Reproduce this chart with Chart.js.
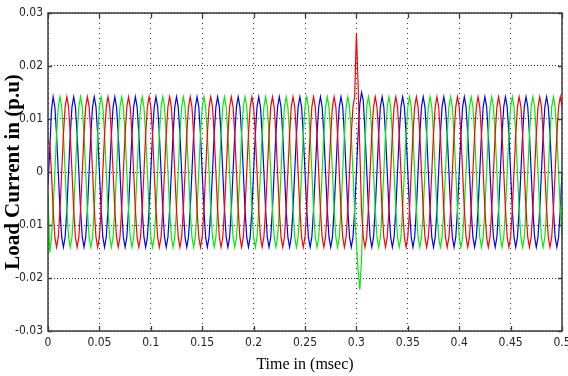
<!DOCTYPE html>
<html>
<head>
<meta charset="utf-8">
<script src="https://cdn.jsdelivr.net/npm/chart.js@4.4.1/dist/chart.umd.min.js"></script>
<style>
  html, body { margin: 0; padding: 0; background: #ffffff; }
  #wrap { width: 568px; height: 376px; }
</style>
</head>
<body>
<div id="wrap"><canvas id="c" width="568" height="376"></canvas></div>
<script>
// Sample times (s), one row per 0.02 s cycle
const timeSec = [
  0,0.00167,0.00333,0.005,0.00667,0.00833,0.01,0.01167,0.01333,0.015,0.01667,0.01833,
  0.02,0.02167,0.02333,0.025,0.02667,0.02833,0.03,0.03167,0.03333,0.035,0.03667,0.03833,
  0.04,0.04167,0.04333,0.045,0.04667,0.04833,0.05,0.05167,0.05333,0.055,0.05667,0.05833,
  0.06,0.06167,0.06333,0.065,0.06667,0.06833,0.07,0.07167,0.07333,0.075,0.07667,0.07833,
  0.08,0.08167,0.08333,0.085,0.08667,0.08833,0.09,0.09167,0.09333,0.095,0.09667,0.09833,
  0.1,0.10167,0.10333,0.105,0.10667,0.10833,0.11,0.11167,0.11333,0.115,0.11667,0.11833,
  0.12,0.12167,0.12333,0.125,0.12667,0.12833,0.13,0.13167,0.13333,0.135,0.13667,0.13833,
  0.14,0.14167,0.14333,0.145,0.14667,0.14833,0.15,0.15167,0.15333,0.155,0.15667,0.15833,
  0.16,0.16167,0.16333,0.165,0.16667,0.16833,0.17,0.17167,0.17333,0.175,0.17667,0.17833,
  0.18,0.18167,0.18333,0.185,0.18667,0.18833,0.19,0.19167,0.19333,0.195,0.19667,0.19833,
  0.2,0.20167,0.20333,0.205,0.20667,0.20833,0.21,0.21167,0.21333,0.215,0.21667,0.21833,
  0.22,0.22167,0.22333,0.225,0.22667,0.22833,0.23,0.23167,0.23333,0.235,0.23667,0.23833,
  0.24,0.24167,0.24333,0.245,0.24667,0.24833,0.25,0.25167,0.25333,0.255,0.25667,0.25833,
  0.26,0.26167,0.26333,0.265,0.26667,0.26833,0.27,0.27167,0.27333,0.275,0.27667,0.27833,
  0.28,0.28167,0.28333,0.285,0.28667,0.28833,0.29,0.29167,0.29333,0.295,0.29667,0.29833,
  0.3,0.30167,0.30333,0.305,0.30667,0.30833,0.31,0.31167,0.31333,0.315,0.31667,0.31833,
  0.32,0.32167,0.32333,0.325,0.32667,0.32833,0.33,0.33167,0.33333,0.335,0.33667,0.33833,
  0.34,0.34167,0.34333,0.345,0.34667,0.34833,0.35,0.35167,0.35333,0.355,0.35667,0.35833,
  0.36,0.36167,0.36333,0.365,0.36667,0.36833,0.37,0.37167,0.37333,0.375,0.37667,0.37833,
  0.38,0.38167,0.38333,0.385,0.38667,0.38833,0.39,0.39167,0.39333,0.395,0.39667,0.39833,
  0.4,0.40167,0.40333,0.405,0.40667,0.40833,0.41,0.41167,0.41333,0.415,0.41667,0.41833,
  0.42,0.42167,0.42333,0.425,0.42667,0.42833,0.43,0.43167,0.43333,0.435,0.43667,0.43833,
  0.44,0.44167,0.44333,0.445,0.44667,0.44833,0.45,0.45167,0.45333,0.455,0.45667,0.45833,
  0.46,0.46167,0.46333,0.465,0.46667,0.46833,0.47,0.47167,0.47333,0.475,0.47667,0.47833,
  0.48,0.48167,0.48333,0.485,0.48667,0.48833,0.49,0.49167,0.49333,0.495,0.49667,0.49833,
  0.5
];

// Phase A (red) load current, p.u.
const phaseRed = [
  0.006,0.0055,0,-0.0071,-0.0123,-0.0142,-0.0123,-0.0071,0,0.0071,0.0123,0.0142,
  0.0123,0.0071,0,-0.0071,-0.0123,-0.0142,-0.0123,-0.0071,0,0.0071,0.0123,0.0142,
  0.0123,0.0071,0,-0.0071,-0.0123,-0.0142,-0.0123,-0.0071,0,0.0071,0.0123,0.0142,
  0.0123,0.0071,0,-0.0071,-0.0123,-0.0142,-0.0123,-0.0071,0,0.0071,0.0123,0.0142,
  0.0123,0.0071,0,-0.0071,-0.0123,-0.0142,-0.0123,-0.0071,0,0.0071,0.0123,0.0142,
  0.0123,0.0071,0,-0.0071,-0.0123,-0.0142,-0.0123,-0.0071,0,0.0071,0.0123,0.0142,
  0.0123,0.0071,0,-0.0071,-0.0123,-0.0142,-0.0123,-0.0071,0,0.0071,0.0123,0.0142,
  0.0123,0.0071,0,-0.0071,-0.0123,-0.0142,-0.0123,-0.0071,0,0.0071,0.0123,0.0142,
  0.0123,0.0071,0,-0.0071,-0.0123,-0.0142,-0.0123,-0.0071,0,0.0071,0.0123,0.0142,
  0.0123,0.0071,0,-0.0071,-0.0123,-0.0142,-0.0123,-0.0071,0,0.0071,0.0123,0.0142,
  0.0123,0.0071,0,-0.0071,-0.0123,-0.0142,-0.0123,-0.0071,0,0.0071,0.0123,0.0142,
  0.0123,0.0071,0,-0.0071,-0.0123,-0.0142,-0.0123,-0.0071,0,0.0071,0.0123,0.0142,
  0.0123,0.0071,0,-0.0071,-0.0123,-0.0142,-0.0123,-0.0071,0,0.0071,0.0123,0.0142,
  0.0123,0.0071,0,-0.0071,-0.0123,-0.0142,-0.0123,-0.0071,0,0.0071,0.0123,0.0142,
  0.0123,0.0071,0,-0.0071,-0.0123,-0.0142,-0.0123,-0.0071,0,0.0071,0.0123,0.0142,
  0.0262,0.0165,0.004,-0.0071,-0.0123,-0.0142,-0.0123,-0.0071,0,0.0071,0.0123,0.0142,
  0.0123,0.0071,0,-0.0071,-0.0123,-0.0142,-0.0123,-0.0071,0,0.0071,0.0123,0.0142,
  0.0123,0.0071,0,-0.0071,-0.0123,-0.0142,-0.0123,-0.0071,0,0.0071,0.0123,0.0142,
  0.0123,0.0071,0,-0.0071,-0.0123,-0.0142,-0.0123,-0.0071,0,0.0071,0.0123,0.0142,
  0.0123,0.0071,0,-0.0071,-0.0123,-0.0142,-0.0123,-0.0071,0,0.0071,0.0123,0.0142,
  0.0123,0.0071,0,-0.0071,-0.0123,-0.0142,-0.0123,-0.0071,0,0.0071,0.0123,0.0142,
  0.0123,0.0071,0,-0.0071,-0.0123,-0.0142,-0.0123,-0.0071,0,0.0071,0.0123,0.0142,
  0.0123,0.0071,0,-0.0071,-0.0123,-0.0142,-0.0123,-0.0071,0,0.0071,0.0123,0.0142,
  0.0123,0.0071,0,-0.0071,-0.0123,-0.0142,-0.0123,-0.0071,0,0.0071,0.0123,0.0142,
  0.0123,0.0071,0,-0.0071,-0.0123,-0.0142,-0.0123,-0.0071,0,0.0071,0.0123,0.0142,
  0.0123
];

// Phase B (green) load current, p.u.
const phaseGreen = [
  -0.004,-0.0152,-0.0125,-0.0071,0,0.0071,0.0123,0.0142,0.0123,0.0071,0,-0.0071,
  -0.0123,-0.0142,-0.0123,-0.0071,0,0.0071,0.0123,0.0142,0.0123,0.0071,0,-0.0071,
  -0.0123,-0.0142,-0.0123,-0.0071,0,0.0071,0.0123,0.0142,0.0123,0.0071,0,-0.0071,
  -0.0123,-0.0142,-0.0123,-0.0071,0,0.0071,0.0123,0.0142,0.0123,0.0071,0,-0.0071,
  -0.0123,-0.0142,-0.0123,-0.0071,0,0.0071,0.0123,0.0142,0.0123,0.0071,0,-0.0071,
  -0.0123,-0.0142,-0.0123,-0.0071,0,0.0071,0.0123,0.0142,0.0123,0.0071,0,-0.0071,
  -0.0123,-0.0142,-0.0123,-0.0071,0,0.0071,0.0123,0.0142,0.0123,0.0071,0,-0.0071,
  -0.0123,-0.0142,-0.0123,-0.0071,0,0.0071,0.0123,0.0142,0.0123,0.0071,0,-0.0071,
  -0.0123,-0.0142,-0.0123,-0.0071,0,0.0071,0.0123,0.0142,0.0123,0.0071,0,-0.0071,
  -0.0123,-0.0142,-0.0123,-0.0071,0,0.0071,0.0123,0.0142,0.0123,0.0071,0,-0.0071,
  -0.0123,-0.0142,-0.0123,-0.0071,0,0.0071,0.0123,0.0142,0.0123,0.0071,0,-0.0071,
  -0.0123,-0.0142,-0.0123,-0.0071,0,0.0071,0.0123,0.0142,0.0123,0.0071,0,-0.0071,
  -0.0123,-0.0142,-0.0123,-0.0071,0,0.0071,0.0123,0.0142,0.0123,0.0071,0,-0.0071,
  -0.0123,-0.0142,-0.0123,-0.0071,0,0.0071,0.0123,0.0142,0.0123,0.0071,0,-0.0071,
  -0.0123,-0.0142,-0.0123,-0.0071,0,0.0071,0.0123,0.0142,0.0123,0.0071,0,-0.0075,
  -0.0135,-0.0185,-0.0222,-0.0165,-0.006,0.005,0.0123,0.0142,0.0123,0.0071,0,-0.0071,
  -0.0123,-0.0142,-0.0123,-0.0071,0,0.0071,0.0123,0.0142,0.0123,0.0071,0,-0.0071,
  -0.0123,-0.0142,-0.0123,-0.0071,0,0.0071,0.0123,0.0142,0.0123,0.0071,0,-0.0071,
  -0.0123,-0.0142,-0.0123,-0.0071,0,0.0071,0.0123,0.0142,0.0123,0.0071,0,-0.0071,
  -0.0123,-0.0142,-0.0123,-0.0071,0,0.0071,0.0123,0.0142,0.0123,0.0071,0,-0.0071,
  -0.0123,-0.0142,-0.0123,-0.0071,0,0.0071,0.0123,0.0142,0.0123,0.0071,0,-0.0071,
  -0.0123,-0.0142,-0.0123,-0.0071,0,0.0071,0.0123,0.0142,0.0123,0.0071,0,-0.0071,
  -0.0123,-0.0142,-0.0123,-0.0071,0,0.0071,0.0123,0.0142,0.0123,0.0071,0,-0.0071,
  -0.0123,-0.0142,-0.0123,-0.0071,0,0.0071,0.0123,0.0142,0.0123,0.0071,0,-0.0071,
  -0.0123,-0.0142,-0.0123,-0.0071,0,0.0071,0.0123,0.0142,0.0123,0.0071,0,-0.0071,
  -0.0123
];

// Phase C (blue) load current, p.u.
const phaseBlue = [
  -0.0025,0.004,0.0115,0.0142,0.0123,0.0071,0,-0.0071,-0.0123,-0.0142,-0.0123,-0.0071,
  0,0.0071,0.0123,0.0142,0.0123,0.0071,0,-0.0071,-0.0123,-0.0142,-0.0123,-0.0071,
  0,0.0071,0.0123,0.0142,0.0123,0.0071,0,-0.0071,-0.0123,-0.0142,-0.0123,-0.0071,
  0,0.0071,0.0123,0.0142,0.0123,0.0071,0,-0.0071,-0.0123,-0.0142,-0.0123,-0.0071,
  0,0.0071,0.0123,0.0142,0.0123,0.0071,0,-0.0071,-0.0123,-0.0142,-0.0123,-0.0071,
  0,0.0071,0.0123,0.0142,0.0123,0.0071,0,-0.0071,-0.0123,-0.0142,-0.0123,-0.0071,
  0,0.0071,0.0123,0.0142,0.0123,0.0071,0,-0.0071,-0.0123,-0.0142,-0.0123,-0.0071,
  0,0.0071,0.0123,0.0142,0.0123,0.0071,0,-0.0071,-0.0123,-0.0142,-0.0123,-0.0071,
  0,0.0071,0.0123,0.0142,0.0123,0.0071,0,-0.0071,-0.0123,-0.0142,-0.0123,-0.0071,
  0,0.0071,0.0123,0.0142,0.0123,0.0071,0,-0.0071,-0.0123,-0.0142,-0.0123,-0.0071,
  0,0.0071,0.0123,0.0142,0.0123,0.0071,0,-0.0071,-0.0123,-0.0142,-0.0123,-0.0071,
  0,0.0071,0.0123,0.0142,0.0123,0.0071,0,-0.0071,-0.0123,-0.0142,-0.0123,-0.0071,
  0,0.0071,0.0123,0.0142,0.0123,0.0071,0,-0.0071,-0.0123,-0.0142,-0.0123,-0.0071,
  0,0.0071,0.0123,0.0142,0.0123,0.0071,0,-0.0071,-0.0123,-0.0142,-0.0123,-0.0071,
  0,0.0071,0.0123,0.0142,0.0123,0.0071,0,-0.0071,-0.0123,-0.0142,-0.0123,-0.0071,
  0,0.0071,0.0128,0.015,0.0135,0.0078,0.0005,-0.0068,-0.0123,-0.0142,-0.0123,-0.0071,
  0,0.0071,0.0123,0.0142,0.0123,0.0071,0,-0.0071,-0.0123,-0.0142,-0.0123,-0.0071,
  0,0.0071,0.0123,0.0142,0.0123,0.0071,0,-0.0071,-0.0123,-0.0142,-0.0123,-0.0071,
  0,0.0071,0.0123,0.0142,0.0123,0.0071,0,-0.0071,-0.0123,-0.0142,-0.0123,-0.0071,
  0,0.0071,0.0123,0.0142,0.0123,0.0071,0,-0.0071,-0.0123,-0.0142,-0.0123,-0.0071,
  0,0.0071,0.0123,0.0142,0.0123,0.0071,0,-0.0071,-0.0123,-0.0142,-0.0123,-0.0071,
  0,0.0071,0.0123,0.0142,0.0123,0.0071,0,-0.0071,-0.0123,-0.0142,-0.0123,-0.0071,
  0,0.0071,0.0123,0.0142,0.0123,0.0071,0,-0.0071,-0.0123,-0.0142,-0.0123,-0.0071,
  0,0.0071,0.0123,0.0142,0.0123,0.0071,0,-0.0071,-0.0123,-0.0142,-0.0123,-0.0071,
  0,0.0071,0.0123,0.0142,0.0123,0.0071,0,-0.0071,-0.0123,-0.0142,-0.0123,-0.0071,
  0
];

const xTickValues = [0, 0.05, 0.1, 0.15, 0.2, 0.25, 0.3, 0.35, 0.4, 0.45, 0.5];
const xTickLabels = ['0', '0.05', '0.1', '0.15', '0.2', '0.25', '0.3', '0.35', '0.4', '0.45', '0.5'];
const yTickValues = [-0.03, -0.02, -0.01, 0, 0.01, 0.02, 0.03];
const yTickLabels = ['-0.03', '-0.02', '-0.01', '0', '0.01', '0.02', '0.03'];

const xTitle = 'Time in (msec)';
const yTitle = 'Load Current in (p.u)';

const tickFont = { family: "'Liberation Sans Narrow','DejaVu Sans Condensed','Arial Narrow',sans-serif", size: 12 };

const frameTicks = {
  id: 'frameTicks',
  afterDraw(chart) {
    const { ctx, chartArea: a, scales } = chart;
    const x = scales.x, y = scales.y;
    ctx.save();
    ctx.strokeStyle = '#3c3c3c';
    ctx.lineWidth = 1.5;
    ctx.strokeRect(a.left, a.top, a.right - a.left, a.bottom - a.top);
    ctx.lineWidth = 1.3;
    ctx.beginPath();
    x.ticks.forEach(t => {
      const px = Math.round(x.getPixelForValue(t.value)) + 0.5;
      ctx.moveTo(px, a.bottom); ctx.lineTo(px, a.bottom - 5);
      ctx.moveTo(px, a.top); ctx.lineTo(px, a.top + 5);
    });
    y.ticks.forEach(t => {
      const py = Math.round(y.getPixelForValue(t.value)) + 0.5;
      ctx.moveTo(a.left, py); ctx.lineTo(a.left + 4, py);
      ctx.moveTo(a.right, py); ctx.lineTo(a.right - 4, py);
    });
    ctx.stroke();
    ctx.restore();
  }
};

const whiteBg = {
  id: 'whiteBg',
  beforeDraw(chart) {
    const { ctx, width, height } = chart;
    ctx.save();
    ctx.fillStyle = '#ffffff';
    ctx.fillRect(0, 0, width, height);
    ctx.restore();
  }
};

new Chart(document.getElementById('c'), {
  type: 'line',
  data: {
    labels: timeSec,
    datasets: [
      { label: 'Phase a', data: phaseRed, borderColor: '#ff0000', borderWidth: 1.2, pointRadius: 0, tension: 0, fill: false },
      { label: 'Phase b', data: phaseGreen, borderColor: '#00ee00', borderWidth: 1.2, pointRadius: 0, tension: 0, fill: false },
      { label: 'Phase c', data: phaseBlue, borderColor: '#0000ff', borderWidth: 1.2, pointRadius: 0, tension: 0, fill: false }
    ]
  },
  options: {
    responsive: false,
    animation: false,
    events: [],
    layout: { padding: { top: 13, right: 6, left: 0, bottom: 0 } },
    plugins: { legend: { display: false }, tooltip: { enabled: false }, title: { display: false } },
    scales: {
      x: {
        type: 'linear',
        min: 0, max: 0.5,
        afterBuildTicks: s => { s.ticks = xTickValues.map(v => ({ value: v })); },
        afterFit: s => { s.height = 45; s.paddingLeft = 0; s.paddingRight = 0; },
        grid: { color: '#333333', lineWidth: 1, drawTicks: false },
        border: { display: false, dash: [1, 4] },
        ticks: { padding: 5, color: '#222222', font: tickFont, maxRotation: 0, autoSkip: false,
                 callback: (v, i) => xTickLabels[i] },
        title: { display: true, text: xTitle, color: '#000000',
                 font: { family: "'Liberation Serif','Times New Roman',serif", size: 16 },
                 padding: { top: 0, bottom: 2 } }
      },
      y: {
        type: 'linear',
        min: -0.03, max: 0.03,
        afterBuildTicks: s => { s.ticks = yTickValues.map(v => ({ value: v })); },
        afterFit: s => { s.width = 48; s.paddingTop = 0; s.paddingBottom = 0; },
        grid: { color: '#333333', lineWidth: 1, drawTicks: false },
        border: { display: false, dash: [1, 2] },
        ticks: { padding: 5, color: '#222222', font: tickFont, autoSkip: false,
                 callback: (v, i) => yTickLabels[i] },
        title: { display: true, text: yTitle, color: '#000000',
                 font: { family: "'Liberation Serif','Times New Roman',serif", size: 21, weight: 'bold' },
                 padding: { top: 1, bottom: 0 } }
      }
    }
  },
  plugins: [whiteBg, frameTicks]
});
</script>
</body>
</html>
